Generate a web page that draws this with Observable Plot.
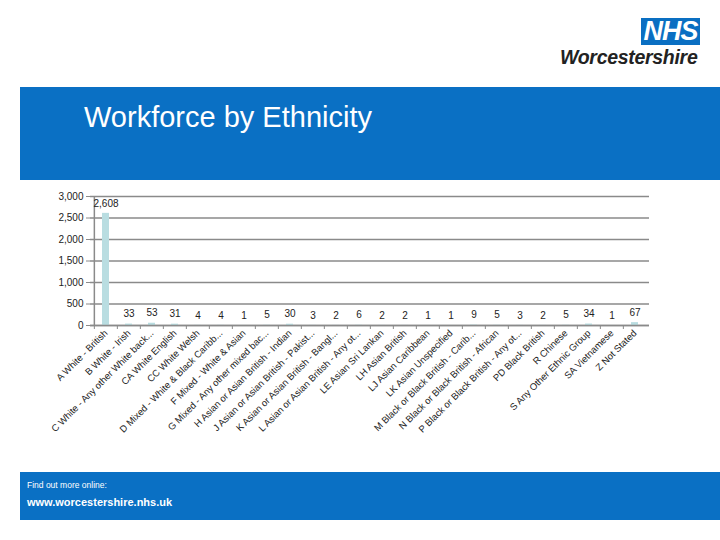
<!DOCTYPE html>
<html><head><meta charset="utf-8">
<script src="https://cdn.jsdelivr.net/npm/d3@7"></script>
<script src="https://cdn.jsdelivr.net/npm/@observablehq/plot@0.6"></script>
<style>
body{margin:0;background:#fff;font-family:"Liberation Sans",Arial,sans-serif;}
#page{position:relative;width:720px;height:540px;overflow:hidden;}
.band{position:absolute;background:#0a70c4;}
#title{position:absolute;left:84px;top:101px;color:#fff;font-size:29px;}
#nhs{position:absolute;left:641px;top:18px;width:59px;height:27px;background:#0a6fc2;color:#fff;font-weight:bold;font-style:italic;font-size:27px;line-height:27px;text-align:center;letter-spacing:-1px;}
#org{position:absolute;left:560px;top:46px;font-size:19.5px;font-style:italic;font-weight:bold;color:#222;letter-spacing:-0.3px;}
#chart{position:absolute;left:0;top:185px;}
#f1{position:absolute;left:27px;top:480px;color:#fff;font-size:8.5px;}
#f2{position:absolute;left:27px;top:496px;color:#fff;font-size:11px;font-weight:bold;}
</style></head>
<body><div id="page">
<div id="nhs">NHS</div>
<div id="org">Worcestershire</div>
<div class="band" style="left:20px;top:87px;width:700px;height:93px;"></div>
<div id="title">Workforce by Ethnicity</div>
<div id="chart"></div>
<div class="band" style="left:20px;top:472px;width:700px;height:48px;"></div>
<div id="f1">Find out more online:</div>
<div id="f2">www.worcestershire.nhs.uk</div>
</div>
<script>
const categories = [
  "A White - British",
  "B White - Irish",
  "C White - Any other White back...",
  "CA White English",
  "CC White Welsh",
  "D Mixed - White & Black Caribb...",
  "F Mixed - White & Asian",
  "G Mixed - Any other mixed bac...",
  "H Asian or Asian British - Indian",
  "J Asian or Asian British - Pakist...",
  "K Asian or Asian British - Bangl...",
  "L Asian or Asian British - Any ot...",
  "LE Asian Sri Lankan",
  "LH Asian British",
  "LJ Asian Caribbean",
  "LK Asian Unspecified",
  "M Black or Black British - Carib...",
  "N Black or Black British - African",
  "P Black or Black British - Any ot...",
  "PD Black British",
  "R Chinese",
  "S Any Other Ethnic Group",
  "SA Vietnamese",
  "Z Not Stated"
];
const counts = [2608, 33, 53, 31, 4, 4, 1, 5, 30, 3, 2, 6, 2, 2, 1, 1, 9, 5, 3, 2, 5, 34, 1, 67];
const yTicks = [0, 500, 1000, 1500, 2000, 2500, 3000];

const data = categories.map((c, i) => ({cat: c, n: counts[i]}));
const mL = 90, mR = 71, W = 720;
const step = (W - mL - mR) / categories.length;
const fmt = d3.format(",");

const chart = Plot.plot({
  width: W, height: 265,
  marginLeft: mL, marginRight: mR, marginTop: 11, marginBottom: 125,
  style: {fontFamily: "Liberation Sans, Arial, sans-serif", fontSize: "10px", color: "#222", background: "transparent"},
  x: {domain: categories, paddingInner: 0.7, paddingOuter: 0.35, label: null},
  y: {domain: [0, 3000], label: null},
  marks: [
    Plot.gridY(yTicks, {stroke: "#8a8a8a", strokeOpacity: 1, strokeWidth: 1.5}),
    Plot.barY(data, {x: "cat", y: "n", fill: "#b9dde1"}),
    Plot.ruleY([0], {stroke: "#8a8a8a", strokeWidth: 1.5}),
    Plot.ruleX([categories[0]], {dx: -step/2, stroke: "#8a8a8a", strokeWidth: 1.5}),
    Plot.axisY({ticks: yTicks, tickFormat: fmt, tickSize: 4, tickPadding: 3, stroke: "#8a8a8a", fontSize: 10}),
    Plot.axisX({tickSize: 4, tickFormat: () => "", dx: -step/2, stroke: "#8a8a8a"}),
    Plot.axisX({tickSize: 0, tickRotate: -45, tickPadding: 6, fontSize: 9.5, fill: "#222"}),
    Plot.text(data, {x: "cat", y: "n", text: d => fmt(d.n), dy: -10, fontSize: 10, fill: "#222"})
  ]
});
document.getElementById("chart").appendChild(chart);
</script>
</body></html>
